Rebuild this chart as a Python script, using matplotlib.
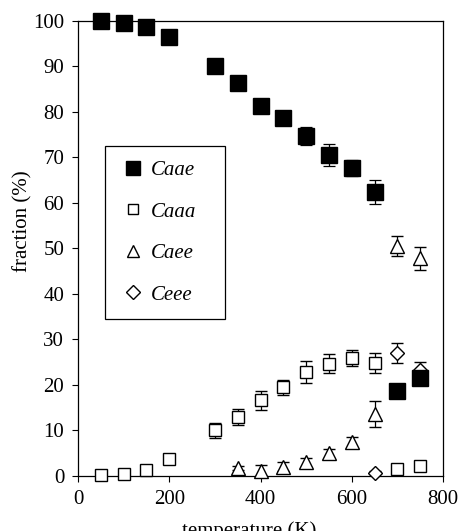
import numpy as np
import matplotlib
matplotlib.use("Agg")
import matplotlib.pyplot as plt

plt.rcParams["font.family"] = ["Liberation Serif", "DejaVu Serif"]

# Conformer fractions (%) vs temperature (K)
temp_caae = [50, 100, 150, 200, 300, 350, 400, 450, 500, 550, 600, 650, 700, 750]
caae = [100.0, 99.6, 98.6, 96.5, 90.0, 86.3, 81.3, 78.6, 74.8, 70.6, 67.7, 62.4, 18.6, 21.6]
caae_err = [0.3, 0.3, 0.4, 0.4, 0.6, 0.6, 0.8, 1.0, 2.0, 2.4, 1.8, 2.6, 0.6, 0.8]

temp_caaa = [50, 100, 150, 200, 300, 350, 400, 450, 500, 550, 600, 650, 700, 750]
caaa = [0.2, 0.4, 1.4, 3.7, 10.0, 13.0, 16.6, 19.5, 22.8, 24.7, 25.9, 24.8, 1.6, 2.3]
caaa_err = [0.3, 0.6, 0.8, 1.0, 1.6, 1.7, 2.0, 1.6, 2.4, 2.0, 1.8, 2.2, 0.8, 0.6]

temp_caee = [350, 400, 450, 500, 550, 600, 650, 700, 750]
caee = [1.8, 1.2, 2.0, 3.0, 5.0, 7.4, 13.6, 50.6, 47.8]
caee_err = [0.4, 1.2, 1.0, 1.0, 1.0, 1.2, 2.8, 2.2, 2.6]

temp_ceee = [650, 700, 750]
ceee = [0.7, 27.0, 23.3]
ceee_err = [0.3, 2.2, 1.8]

x_ticks = [0, 200, 400, 600, 800]
y_ticks = [0, 10, 20, 30, 40, 50, 60, 70, 80, 90, 100]

fig = plt.figure(figsize=(4.6, 5.31), dpi=100)
ax = fig.add_axes([0.1696, 0.1036, 0.7935, 0.8569])

_ERR_KW = dict(linestyle="none", ecolor="black", elinewidth=0.9,
               capsize=4, capthick=0.9, clip_on=False)

ax.errorbar(temp_caaa, caaa, yerr=caaa_err, marker="s", markersize=8,
            markerfacecolor="white", markeredgecolor="black",
            markeredgewidth=1.0, label="Caaa", zorder=3, **_ERR_KW)
ax.errorbar(temp_caee, caee, yerr=caee_err, marker="^", markersize=9.5,
            markerfacecolor="white", markeredgecolor="black",
            markeredgewidth=1.0, label="Caee", zorder=3, **_ERR_KW)
ax.errorbar(temp_ceee, ceee, yerr=ceee_err, marker="D", markersize=7.5,
            markerfacecolor="white", markeredgecolor="black",
            markeredgewidth=1.0, label="Ceee", zorder=3, **_ERR_KW)
ax.errorbar(temp_caae, caae, yerr=caae_err, marker="s", markersize=11,
            markerfacecolor="black", markeredgecolor="black",
            label="Caae", zorder=4, **_ERR_KW)

ax.set_xlim(0, 800)
ax.set_ylim(0, 100)
ax.set_xticks(x_ticks)
ax.set_yticks(y_ticks)
ax.tick_params(labelsize=15, direction="out", length=4, width=0.8, pad=6)
for sp in ax.spines.values():
    sp.set_linewidth(0.9)

ax.set_ylabel("fraction (%)", fontsize=15)
ax.yaxis.set_label_coords(-0.126, 0.56)
ax.set_xlabel("temperature (K)", fontsize=15)
ax.xaxis.set_label_coords(0.47, -0.1)

# legend: filled square first, then the open symbols
handles, labels = ax.get_legend_handles_labels()
order = [3, 0, 1, 2]
leg = ax.legend([handles[i][0] for i in order], [labels[i] for i in order],
                loc="upper left", bbox_to_anchor=(0.074, 0.725, 0.329, 0.0),
                mode="expand", borderaxespad=0,
                fancybox=False, edgecolor="black", framealpha=1,
                prop={"size": 15, "style": "italic"},
                handlelength=1.3, handletextpad=0.2, labelspacing=1.05,
                borderpad=0.7, markerscale=0.9)
leg.get_frame().set_linewidth(0.9)

fig.savefig("out.png", dpi=100)
